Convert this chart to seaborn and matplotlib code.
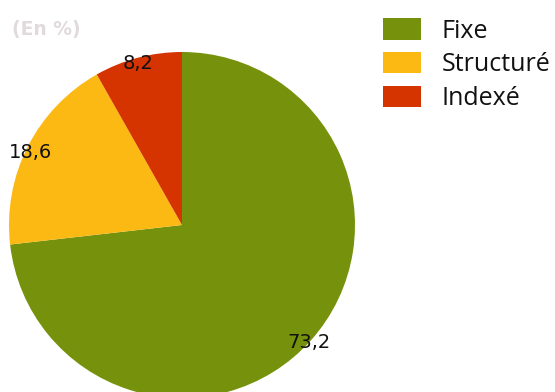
import matplotlib
matplotlib.use("Agg")
import matplotlib.pyplot as plt
import numpy as np
import seaborn as sns

# Répartition (En %)
categories = ["Fixe", "Structuré", "Indexé"]
values = [73.2, 18.6, 8.2]
labels = ["73,2", "18,6", "8,2"]
colors = ["#76920C", "#FDB913", "#D53300"]

sns.set_theme(style="white")
plt.rcParams["font.family"] = ["DejaVu Sans"]

fig = plt.figure(figsize=(5.55, 3.92), dpi=100)
# square axes holding the pie (pixel box 346x346)
ax = fig.add_axes([9 / 555, -6 / 392, 346 / 555, 346 / 392])

wedges, texts = ax.pie(
    values,
    labels=labels,
    colors=colors,
    startangle=90,
    counterclock=False,
    labeldistance=0.97,
    radius=1,
    textprops=dict(fontsize=14, color="#111111", ha="center", va="center"),
    wedgeprops=dict(linewidth=0),
)

# nudge labels along the rim (Excel-like placement)
nudge = [-1.0, 1.5, 0.4]
dist = [1.0, 0.97, 0.97]
for w, t, d, r in zip(wedges, texts, nudge, dist):
    mid = np.deg2rad((w.theta1 + w.theta2) / 2 + d)
    t.set_position((r * np.cos(mid), r * np.sin(mid)))

ax.set_xlim(-1, 1)
ax.set_ylim(-1, 1)
ax.set_aspect("equal")
ax.axis("off")

fig.text(12 / 555, 1 - 30 / 392, "(En %)", fontsize=13.5, fontweight="bold",
         color="#E0DADD", ha="left", va="center")

leg = fig.legend(
    wedges, categories,
    loc="upper left",
    bbox_to_anchor=(367 / 555, 1 - 2 / 392),
    frameon=False,
    borderpad=0.15,
    handlelength=1.5,
    handleheight=0.95,
    handletextpad=0.85,
    labelspacing=0.33,
    prop={"family": "Open Sans", "size": 18},
)
for txt in leg.get_texts():
    txt.set_color("#111111")

fig.savefig("out.png", dpi=100)
